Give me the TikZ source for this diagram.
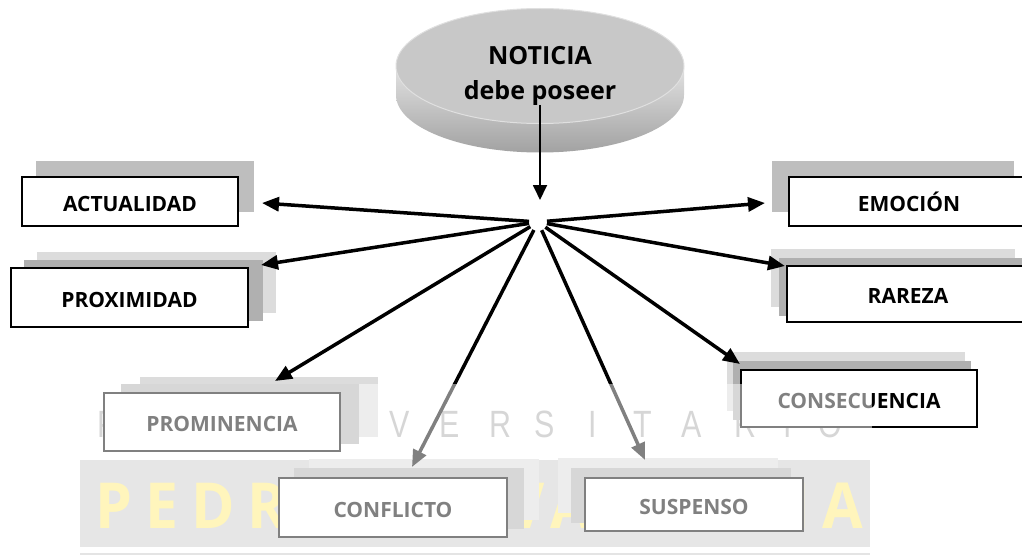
\documentclass[tikz,border=0pt]{standalone}
\usepackage{fontspec}
\setmainfont{Open Sans}
\newfontfamily\wmthin{Liberation Sans}
\newfontfamily\wmsans{Open Sans}
\usetikzlibrary{arrows.meta,calc,shapes.geometric,backgrounds}
\definecolor{shdark}{HTML}{B0B0B0}
\definecolor{shlight}{HTML}{DCDCDC}
\definecolor{shone}{HTML}{BEBEBE}
\definecolor{bandgray}{HTML}{CDCDCD}
\definecolor{wmyellow}{HTML}{FFEC7A}
\definecolor{wmgray}{HTML}{AEAEAE}
\definecolor{wmline}{HTML}{E4E4E4}
\definecolor{disctop}{HTML}{C8C8C8}
\definecolor{discrim}{HTML}{E0E0E0}
\definecolor{discA}{HTML}{E2E2E2}
\definecolor{discB}{HTML}{A2A2A2}
\newcommand{\boxshadow}[3]{%
  \begin{scope}[on background layer]
    \fill[#3] ($(#1.south west)+#2$) rectangle ($(#1.north east)+#2$);
  \end{scope}}
\begin{document}
\begin{tikzpicture}[x=1pt,y=-1pt,
  lbox/.style={draw=black, line width=1.5pt, fill=white, inner sep=0pt,
    text height=19pt, text depth=0pt, font=\fontsize{21}{25}\selectfont\bfseries},
  ray/.style={line width=3.5pt, shorten <=9pt, -{Triangle[length=17pt,width=14pt]}},
  wmletter/.style={anchor=base, inner sep=0pt, text=wmgray,
    font=\wmthin\fontsize{38}{38}\selectfont},
]
\useasboundingbox (0,0) rectangle (1022,559);
\clip (0,0) rectangle (1022,559);

% watermark (behind the boxes)
\begin{scope}[on background layer]
  \fill[bandgray] (80,460) rectangle (870,547);
  \node[anchor=base west, inner sep=0pt, text=wmyellow] (pdv) at (95,528)
    {\resizebox{768pt}{46pt}{\wmsans\bfseries P\kern.22em E\kern.22em D\kern.22em R\kern.22em O\hspace{.6em}D\kern.22em E\hspace{.6em}V\kern.1em A\kern.22em L\kern.22em D\kern.22em I\kern.22em V\kern.22em I\kern.22em A}};
  \foreach \ch/\x in {P/108,R/157,E/207,U/262,N/308,I/355,V/400,E/450,R/500,S/545,I/593,T/643,A/692,R/745,I/788,O/830}
    \node[wmletter] (wl\x) at (\x,437) {\scalebox{0.8}[1]{\ch}};
\end{scope}

% disc
\shade[top color=discA, bottom color=discB]
  (396,66) -- (396,95) arc (180:0:144 and 57.5) -- (684,66) -- cycle;
\node[ellipse, fill=disctop, draw=discrim, line width=1pt,
  minimum width=288pt, minimum height=115pt, inner sep=0pt] (noticia) at (540,66) {};
\node[font=\fontsize{25}{35}\selectfont\bfseries, align=center, inner sep=0pt]
  (ntxt) at (540,76) {NOTICIA\\debe poseer};

% boxes
\node[lbox, minimum width=216pt, minimum height=49pt] (act)  at (130,201.5) {ACTUALIDAD};
\node[lbox, minimum width=237pt, minimum height=59pt] (prox) at (129.5,297.5) {PROXIMIDAD};
\node[lbox, minimum width=240pt, minimum height=49pt] (emo)  at (909,201.5) {EMOCIÓN};
\node[lbox, minimum width=242pt, minimum height=56pt] (rar)  at (908,294) {RAREZA};
\node[lbox, minimum width=236pt, minimum height=57pt] (cons) at (859,398.5) {CONSECUENCIA};
\node[lbox, minimum width=236pt, minimum height=58pt] (prom) at (222,422) {PROMINENCIA};
\node[lbox, minimum width=228pt, minimum height=59pt] (conf) at (393,507.5) {CONFLICTO};
\node[lbox, minimum width=218pt, minimum height=53pt] (susp) at (694,504.5) {SUSPENSO};

% shadows
\boxshadow{act}{(15,-15)}{shone}
\boxshadow{prox}{(27,-15)}{shlight}
\boxshadow{prox}{(14,-7)}{shdark}
\boxshadow{emo}{(-16,-15)}{shone}
\boxshadow{rar}{(-15,-16)}{shlight}
\boxshadow{rar}{(-7,-7)}{shdark}
\boxshadow{cons}{(-13,-17)}{shlight}
\boxshadow{cons}{(-7,-8)}{shdark}
\boxshadow{prom}{(37,-15)}{shlight}
\boxshadow{prom}{(18,-8)}{shdark}
\boxshadow{conf}{(31,-18)}{shlight}
\boxshadow{conf}{(16,-9)}{shdark}
\boxshadow{susp}{(-26,-19)}{shlight}
\boxshadow{susp}{(-13,-9)}{shdark}

% connectors
\coordinate (hub) at (538,222);
\coordinate (vstart) at (540,105);
\coordinate (vend) at (540,200);
\coordinate (tact) at (262,203);
\coordinate (tprox) at (261,265);
\coordinate (temo) at (765,203);
\coordinate (trar) at (785,266);
\coordinate (tcons) at (740,364);
\coordinate (tprom) at (275,381);
\coordinate (tconf) at (412,467);
\coordinate (tsusp) at (645,460);

\draw[line width=1.8pt, -{Triangle[length=15pt,width=14pt]}] (vstart) -- (vend);
\foreach \t in {tact,tprox,temo,trar,tcons,tprom,tconf,tsusp}
  \draw[ray] (hub) -- (\t);

% watermark lightening
\fill[white, fill opacity=0.5] (80,384) rectangle (872,558);
\draw[wmline, line width=2pt] (80,554) -- (870,554);
\end{tikzpicture}
\end{document}
